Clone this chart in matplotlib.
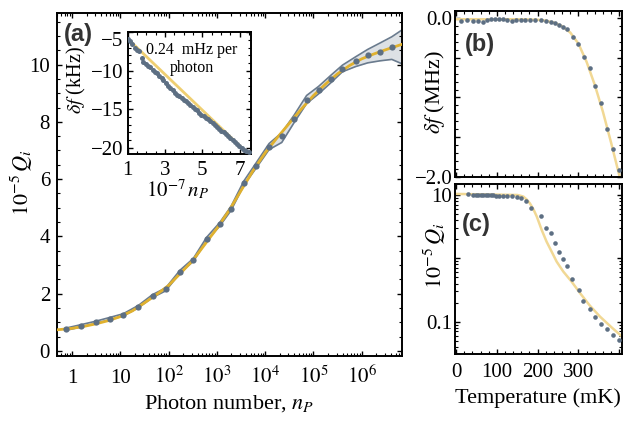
import numpy as np
import matplotlib
matplotlib.use("Agg")
import matplotlib.pyplot as plt
from matplotlib.ticker import (FixedLocator, FixedFormatter, MultipleLocator,
                               LogLocator, NullFormatter)

# ---------------- data ----------------
# (a) internal quality factor vs photon number
qi_n = [0.75, 1.54, 3.1, 6.0, 11.5, 23.6, 46.6, 87, 172, 325, 613, 1140, 1950,
        3600, 6450, 12000, 22000, 39900, 72000, 128000, 227000, 398000,
        745000, 1.33e6, 2.37e6, 4.18e6]
qi_val = [0.76, 0.88, 1.00, 1.13, 1.26, 1.55, 1.92, 2.15, 2.77, 3.18, 3.91,
          4.42, 4.97, 5.85, 6.47, 7.13, 7.49, 8.10, 8.77, 9.10, 9.48, 9.86,
          10.11, 10.32, 10.44, 10.60]

# uncertainty band of (a)
band_n = qi_n + [7.4e6]
band_lo = [0.72, 0.84, 0.96, 1.09, 1.22, 1.51, 1.87, 2.10, 2.72, 3.13, 3.85,
           4.36, 4.90, 5.78, 6.38, 7.03, 7.28, 7.98, 8.64, 8.98, 9.36, 9.75,
           9.93, 10.06, 10.13, 10.18, 10.00]
band_hi = [0.80, 0.92, 1.04, 1.17, 1.30, 1.59, 1.97, 2.20, 2.82, 3.23, 3.97,
           4.48, 5.04, 5.93, 6.56, 7.24, 7.62, 8.24, 8.92, 9.24, 9.62, 9.98,
           10.27, 10.53, 10.75, 10.97, 11.25]

# TLS model curve of (a)
fit_log10_n = [-0.31, 0.0, 0.25, 0.5, 0.75, 1.0, 1.25, 1.5, 1.75, 2.0, 2.25,
               2.5, 2.75, 3.0, 3.25, 3.5, 3.75, 4.0, 4.25, 4.5, 4.75, 5.0,
               5.25, 5.5, 5.75, 6.0, 6.25, 6.5, 6.82]
fit_q = [0.74, 0.79, 0.86, 0.95, 1.06, 1.20, 1.40, 1.68, 1.97, 2.29, 2.72,
         3.16, 3.72, 4.28, 4.90, 5.60, 6.30, 6.92, 7.45, 7.95, 8.45, 8.92,
         9.32, 9.68, 9.97, 10.20, 10.37, 10.52, 10.70]

# inset: frequency shift vs photon number (units of 1e7)
ins_n = [1.03, 1.12, 1.25, 1.39, 1.50, 1.62, 1.75, 1.84, 1.97, 2.10, 2.20,
         2.35, 2.48, 2.56, 2.70, 2.82, 2.91, 3.05, 3.16, 3.27, 3.40, 3.52,
         3.63, 3.76, 3.88, 3.99, 4.12, 4.24, 4.35, 4.48, 4.60, 4.71, 4.84,
         4.95, 5.06, 5.18, 5.30, 5.42, 5.55, 5.66, 5.78, 5.90, 6.02, 6.14,
         6.26, 6.38, 6.50, 6.62, 6.74, 6.86, 6.98, 7.10, 7.21, 7.33, 7.48]
ins_df = [-5.85, -6.15, -6.6, -7.1, -7.3, -7.5, -8.4, -8.9, -9.1, -9.35,
          -9.5, -9.85, -10.15, -10.35, -10.7, -11.0, -11.2, -11.6, -11.95,
          -12.25, -12.55, -12.85, -13.1, -13.35, -13.55, -13.75, -14.0, -14.2,
          -14.4, -14.7, -14.95, -15.15, -15.45, -15.7, -15.9, -16.1, -16.3,
          -16.5, -16.85, -17.1, -17.35, -17.6, -17.8, -18.0, -18.2, -18.45,
          -18.7, -19.0, -19.25, -19.5, -19.8, -20.05, -20.3, -20.45, -20.6]
ins_fit_n = [1.0, 7.4]
ins_fit_df = [-5.85, -20.7]

# (b) frequency shift vs temperature
tb = [11.4, 26.1, 40.8, 54.7, 65.4, 75.2, 85, 95.6, 105.4, 116, 125.8, 136.4,
      147, 158.5, 169, 181.4, 193.6, 207.5, 220.6, 232, 242.6, 253.3, 263,
      272.9, 286, 299.8, 313.7, 328.4, 340.7, 355.4, 369.3, 384, 400]
dfb = [-0.030, -0.021, -0.030, -0.038, -0.051, -0.021, -0.009, -0.005,
       -0.009, -0.009, -0.021, -0.030, -0.021, -0.021, -0.021, -0.021,
       -0.021, -0.021, -0.030, -0.047, -0.063, -0.089, -0.114, -0.139,
       -0.232, -0.329, -0.485, -0.631, -0.855, -1.066, -1.40, -1.65, -1.92]
tb_fit = [-3, 150, 200, 220, 240, 260, 280, 300, 320, 340, 360, 380, 400, 410]
dfb_fit = [-0.012, -0.012, -0.018, -0.03, -0.055, -0.10, -0.18, -0.32, -0.55,
           -0.84, -1.18, -1.57, -1.98, -2.2]

# (c) quality factor vs temperature
tc = [28.6, 42.5, 49, 55, 61, 67, 73, 79, 85, 91, 97, 105, 116, 126, 136.4,
      148.7, 160, 171.6, 183.8, 207.5, 219.8, 232, 241.8, 253.3, 263, 272.9,
      284.3, 300.7, 312, 328.4, 340.7, 355.4, 370.9, 384, 400]
qc = [10.2, 9.95, 10.0, 9.95, 9.95, 9.9, 9.9, 9.9, 9.85, 9.85, 9.8, 9.8, 9.7,
      9.6, 9.5, 9.3, 8.9, 8.0, 6.2, 4.65, 3.05, 2.48, 1.73, 1.27, 0.975, 0.76,
      0.48, 0.32, 0.214, 0.158, 0.117, 0.091, 0.076, 0.0617, 0.051]
tc_fit = [-3, 150, 157, 165, 173, 181, 190, 198, 210, 222, 234.5, 246.7, 263,
          283.5, 304, 328.4, 353, 381.6, 408.5]
qc_fit = [10.4, 10.0, 9.77, 9.44, 8.51, 7.38, 5.89, 4.55, 2.80, 1.83, 1.27,
          0.885, 0.617, 0.427, 0.282, 0.178, 0.120, 0.081, 0.057]

# ---------------- style ----------------
plt.rcParams.update({
    "font.family": ["Liberation Serif", "DejaVu Serif"],
    "mathtext.fontset": "stix",
    "font.size": 15,
    "axes.linewidth": 1.4,
    "xtick.major.width": 1.0, "ytick.major.width": 1.0,
    "xtick.minor.width": 0.8, "ytick.minor.width": 0.8,
    "xtick.major.size": 3.5, "ytick.major.size": 3.5,
    "xtick.minor.size": 2.0, "ytick.minor.size": 2.0,
})

DOT = "#5d6f83"
BAND_FILL = "#dde1e5"
BAND_EDGE = "#6a7b8e"
GOLD = "#e0b12e"
GOLD_LIGHT = "#efcf72"
GOLD_PALE = "#f1d894"
W, H = 624, 424

fig = plt.figure(figsize=(W / 100, H / 100), dpi=100)


def box(l, t, r, b):
    return [l / W, 1 - b / H, (r - l) / W, (b - t) / H]


def frame_ticks(ax):
    ax.tick_params(which="both", direction="in", top=True, right=True)


def ftext(x, y, s, **kw):
    kw.setdefault("ha", "center")
    kw.setdefault("va", "center")
    fig.text(x / W, 1 - y / H, s, **kw)


# ---------------- (a) main panel ----------------
ax = fig.add_axes(box(57, 13, 401.5, 356))
ax.set_xscale("log")
ax.fill_between(band_n, band_lo, band_hi, color=BAND_FILL, lw=0, zorder=1)
ax.plot(band_n, band_lo, color=BAND_EDGE, lw=1.2, zorder=2)
ax.plot(band_n, band_hi, color=BAND_EDGE, lw=1.2, zorder=2)
ax.plot(10 ** np.array(fit_log10_n), fit_q, color=GOLD, lw=2.0, zorder=3)
ax.plot(qi_n, qi_val, "o", ms=4.5, color=DOT, mec="none", zorder=4)
ax.set_xlim(0.489, 6.64e6)
ax.set_ylim(-0.1745, 11.8)

xmaj = [1, 10, 1e2, 1e3, 1e4, 1e5, 1e6]
xlab = ["1", "10", "$10^{2}$", "$10^{3}$", "$10^{4}$", "$10^{5}$", "$10^{6}$"]
ax.xaxis.set_major_locator(FixedLocator(xmaj))
ax.xaxis.set_major_formatter(FixedFormatter(xlab))
ax.xaxis.set_minor_locator(LogLocator(base=10, subs=np.arange(2, 10), numticks=30))
ax.xaxis.set_minor_formatter(NullFormatter())
ax.yaxis.set_major_locator(MultipleLocator(2))
ax.yaxis.set_minor_locator(MultipleLocator(0.5))
frame_ticks(ax)
ax.tick_params(axis="x", which="major", pad=19.4, labelsize=15)
ax.tick_params(axis="y", which="major", pad=5, labelsize=15)
for lbl in ax.get_xticklabels():
    lbl.set_verticalalignment("baseline")

# ---------------- inset ----------------
axi = fig.add_axes(box(127.7, 31.7, 251, 154.3))
axi.plot(ins_fit_n, ins_fit_df, color=GOLD_LIGHT, lw=2.0, zorder=2)
axi.plot(ins_n, ins_df, "o", ms=3.6, color=DOT, mec="none", zorder=3)
axi.set_xlim(1, 7.6)
axi.set_ylim(-20.86, -4.94)
axi.xaxis.set_major_locator(FixedLocator([1, 3, 5, 7]))
axi.xaxis.set_minor_locator(MultipleLocator(0.5))
axi.yaxis.set_major_locator(FixedLocator([-20, -15, -10, -5]))
axi.yaxis.set_minor_locator(MultipleLocator(1))
frame_ticks(axi)
axi.tick_params(axis="x", which="major", pad=4.5, labelsize=15)
axi.tick_params(axis="y", which="major", pad=3, labelsize=15)
axi.get_yticklabels()[-1].set_verticalalignment("top")

# ---------------- (b) ----------------
axb = fig.add_axes(box(455, 11, 622.5, 177.3))
axb.plot(tb_fit, dfb_fit, color=GOLD_PALE, lw=1.8, zorder=2)
axb.plot(tb, dfb, "o", ms=3.3, color=DOT, mec="none", zorder=3)
axb.set_xlim(-2.5, 408)
axb.set_ylim(-2.008, 0.092)
axb.xaxis.set_major_locator(FixedLocator([0, 100, 200, 300, 400]))
axb.xaxis.set_minor_locator(MultipleLocator(20))
axb.xaxis.set_major_formatter(NullFormatter())
axb.yaxis.set_major_locator(FixedLocator([-2.0, -1.5, -1.0, -0.5, 0.0]))
axb.yaxis.set_major_formatter(FixedFormatter(["\u22122.0", "", "", "", "0.0"]))
axb.yaxis.set_minor_locator(MultipleLocator(0.1))
frame_ticks(axb)
axb.tick_params(axis="y", which="major", pad=2, labelsize=15)

# ---------------- (c) ----------------
axc = fig.add_axes(box(455, 184, 622.5, 354))
axc.set_yscale("log")
axc.plot(tc_fit, qc_fit, color=GOLD_PALE, lw=1.8, zorder=2)
axc.plot(tc, qc, "o", ms=3.3, color=DOT, mec="none", zorder=3)
axc.set_xlim(-2.5, 408)
axc.set_ylim(0.0309, 14.9)
axc.xaxis.set_major_locator(FixedLocator([0, 100, 200, 300, 400]))
axc.xaxis.set_major_formatter(FixedFormatter(["0", "100", "200", "300", ""]))
axc.xaxis.set_minor_locator(MultipleLocator(20))
axc.yaxis.set_major_locator(FixedLocator([0.1, 1, 10]))
axc.yaxis.set_major_formatter(FixedFormatter(["0.1", "", "10"]))
axc.yaxis.set_minor_locator(LogLocator(base=10, subs=np.arange(2, 10), numticks=30))
axc.yaxis.set_minor_formatter(NullFormatter())
frame_ticks(axc)
axc.tick_params(axis="y", which="major", pad=2, labelsize=15)
axc.tick_params(axis="x", which="major", pad=6.5, labelsize=15)

# ---------------- labels ----------------
ftext(22, 183, r"$10^{-5}\,Q_i$", rotation=90, fontsize=16)
ftext(229, 404, r"Photon number, $n_P$", fontsize=16)
ftext(76, 80, r"$\delta f$ (kHz)", rotation=90, fontsize=14.5)
ftext(178, 190, r"$10^{-7}\,n_P$", fontsize=15)
ftext(192, 50, "0.24  mHz per", fontsize=11.5)
ftext(192, 68, "photon", fontsize=11.5)
ftext(435, 92, r"$\delta f$ (MHz)", rotation=90, fontsize=16)
ftext(435, 256, r"$10^{-5}\,Q_i$", rotation=90, fontsize=16)
ftext(538, 398, "Temperature (mK)", fontsize=16)

panel_kw = dict(family="Liberation Sans", fontweight="bold", fontsize=17,
                color="#333333")
ftext(78, 35, "(a)", **panel_kw)
ftext(480, 45, "(b)", **panel_kw)
ftext(476, 225, "(c)", **panel_kw)

fig.savefig("out.png", dpi=100)
